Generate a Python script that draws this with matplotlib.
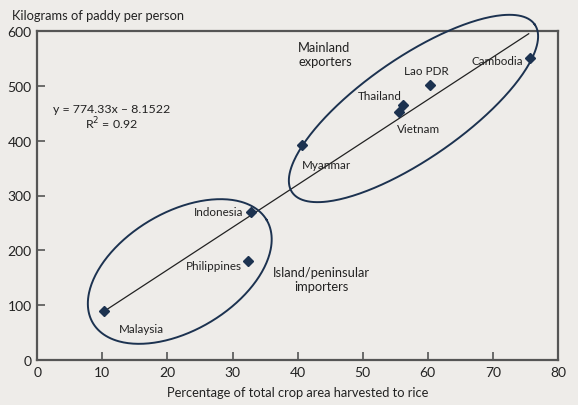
import numpy as np
import matplotlib.pyplot as plt

plt.rcParams['font.family'] = ['Lato', 'DejaVu Sans']

# data
countries = ['Malaysia', 'Philippines', 'Indonesia', 'Myanmar', 'Vietnam',
             'Thailand', 'Lao PDR', 'Cambodia']
pct_rice = [10.3, 32.4, 32.9, 40.6, 55.5, 56.2, 60.4, 75.7]
kg_paddy = [89, 180, 270, 392, 453, 465, 501, 550]

# trend line as drawn
fit_x = [10.3, 75.5]
fit_y = [89, 595]

xticks = [0, 10, 20, 30, 40, 50, 60, 70, 80]
yticks = [0, 100, 200, 300, 400, 500, 600]

W, H = 578, 406
bg = '#eeece9'
navy = '#1c3250'
grey = '#555555'
ink = '#222222'

fig = plt.figure(figsize=(W / 100, H / 100), dpi=100, facecolor=bg)
ax_l, ax_r, ax_t, ax_b = 37.2, 558, 32, 361
ax = fig.add_axes([ax_l / W, (H - ax_b) / H, (ax_r - ax_l) / W, (ax_b - ax_t) / H])
ax.set_facecolor(bg)
ax.set_xlim(0, 80)
ax.set_ylim(0, 600)

# px per data unit, used to draw the ellipses round the groups
sx = (ax_r - ax_l) / 80
sy = (ax_b - ax_t) / 600


def ring(cx, cy, a, b, ang):
    t = np.linspace(0, 2 * np.pi, 300)
    th = np.deg2rad(ang)
    u = a * np.cos(t) * np.cos(th) - b * np.sin(t) * np.sin(th)
    v = a * np.cos(t) * np.sin(th) + b * np.sin(t) * np.cos(th)
    ax.plot(cx + u / sx, cy + v / sy, color=navy, lw=1.4, clip_on=False, zorder=3)


ring(57.8, 458.7, 147.5, 50.5, 34.7)
ring(21.9, 161.4, 101, 59, 30.7)

ax.plot(fit_x, fit_y, color=ink, lw=0.9, zorder=2)
ax.plot(pct_rice, kg_paddy, 'D', color=navy, ms=5, zorder=4, linestyle='none')

fs = 8.4
lbl = {
    'Malaysia': (12.6, 58, 'left'),
    'Philippines': (31.4, 172, 'right'),
    'Indonesia': (31.6, 271, 'right'),
    'Myanmar': (40.6, 357, 'left'),
    'Vietnam': (55.3, 422, 'left'),
    'Thailand': (56.0, 483, 'right'),
    'Lao PDR': (59.8, 528, 'center'),
    'Cambodia': (74.6, 546, 'right'),
}
for name, (tx, ty, ha) in lbl.items():
    ax.text(tx, ty, name, fontsize=fs, ha=ha, va='center', color=ink, zorder=5)

ax.text(11.4, 443, 'y = 774.33x \u2013 8.1522\nR$^2$ = 0.92', fontsize=8.9,
        ha='center', va='center', linespacing=1.05, color=ink)
ax.text(40.1, 582, 'Mainland\nexporters', fontsize=9.3, ha='left', va='top',
        linespacing=1.2, color=ink)
ax.text(43.6, 148, 'Island/peninsular\nimporters', fontsize=9.3, ha='center',
        va='center', linespacing=1.2, color=ink)

ax.set_xticks(xticks)
ax.set_yticks(yticks)
ax.tick_params(direction='in', length=6, width=1.2, color=grey,
               labelsize=10, labelcolor=ink, pad=4)
for s in ax.spines.values():
    s.set_color(grey)
    s.set_linewidth(1.6)

ax.set_xlabel('Percentage of total crop area harvested to rice', fontsize=9.3,
              color=ink, labelpad=6)
fig.text(12 / W, 1 - 16 / H, 'Kilograms of paddy per person', fontsize=9.3,
         ha='left', va='center', color=ink)

fig.savefig('out.png', dpi=100, facecolor=bg)
